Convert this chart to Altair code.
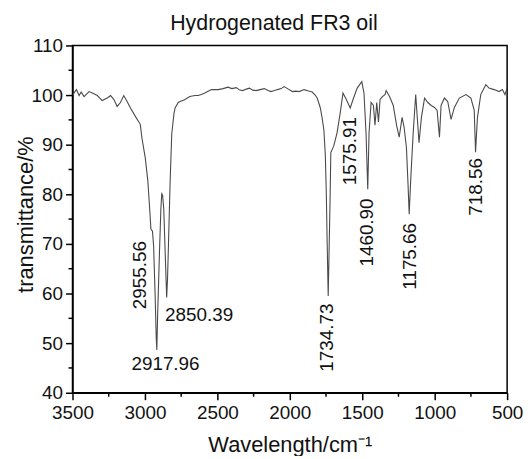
import altair as alt
import pandas as pd

# Spectrum trace (wavenumber cm-1, transmittance %)
wavenumber = [
    3500, 3473, 3454, 3440, 3420, 3386, 3363, 3329, 3295, 3260, 3237, 3214, 3192, 3169, 3146,
    3123, 3100, 3066, 3032, 3021, 2998, 2980, 2968, 2959, 2955, 2948, 2940, 2930, 2922, 2918,
    2912, 2900, 2890, 2884, 2878, 2870, 2860, 2850, 2844, 2838, 2826, 2815, 2800, 2792, 2770,
    2758, 2730, 2690, 2655, 2633, 2610, 2587, 2541, 2496, 2460, 2427, 2400, 2370, 2345, 2325,
    2300, 2279, 2255, 2233, 2205, 2176, 2150, 2131, 2105, 2085, 2060, 2039, 2010, 1982, 1960,
    1936, 1902, 1870, 1845, 1825, 1811, 1790, 1777, 1765, 1755, 1748, 1742, 1735, 1728, 1722,
    1717, 1697, 1674, 1652, 1633, 1610, 1583, 1560, 1535, 1503, 1488, 1474, 1462, 1453, 1439,
    1423, 1412, 1400, 1388, 1377, 1361, 1343, 1335, 1310, 1286, 1263, 1245, 1225, 1211, 1195,
    1184, 1176, 1167, 1149, 1131, 1120, 1108, 1092, 1070, 1047, 1024, 1001, 983, 967, 956,
    933, 910, 887, 864, 830, 784, 750, 727, 718, 705, 682, 647, 625, 590, 556,
    533, 515, 500,
]
transmittance = [
    100.0, 101.1, 99.9, 100.6, 99.7, 100.7, 100.4, 99.9, 98.9, 99.4, 99.9, 99.1, 97.7, 98.5, 99.9,
    98.7, 97.4, 95.7, 94.1, 91.4, 87.4, 82.7, 77.4, 73.1, 72.8, 72.6, 69.5, 60.0, 51.0, 48.6,
    56.0, 68.0, 77.0, 80.1, 79.8, 77.0, 68.0, 59.2, 63.0, 69.4, 82.7, 92.1, 96.2, 97.4, 98.5,
    98.7, 99.0, 99.7, 99.9, 99.9, 100.1, 100.4, 101.1, 101.1, 101.3, 101.6, 101.3, 101.5, 101.0, 100.9,
    101.2, 101.4, 101.0, 100.9, 101.1, 101.3, 100.9, 100.7, 100.9, 101.1, 101.3, 101.7, 101.2, 100.7, 100.8,
    100.7, 101.1, 100.8, 100.6, 100.0, 99.4, 97.5, 95.4, 93.0, 88.0, 80.0, 70.0, 59.5, 70.0, 79.0,
    88.4, 89.7, 92.4, 96.4, 100.4, 99.1, 97.4, 99.4, 101.4, 102.7, 100.4, 92.4, 81.0, 92.4, 98.5,
    97.9, 93.9, 98.5, 94.6, 99.1, 99.7, 100.1, 100.9, 99.6, 97.9, 93.9, 91.5, 95.5, 93.5, 89.4,
    82.0, 76.0, 82.0, 92.1, 100.1, 95.4, 90.4, 95.4, 99.4, 98.5, 97.9, 97.5, 96.9, 91.5, 97.9,
    99.4, 98.7, 95.1, 97.5, 99.4, 100.1, 99.4, 96.9, 88.5, 95.4, 100.1, 102.1, 101.4, 101.1, 100.7,
    101.1, 100.1, 101.4,
]

# Peak annotations
vert_labels = ["2955.56", "1734.73", "1575.91", "1460.90", "1175.66", "718.56"]
vert_x = [3037, 1743, 1583, 1469, 1172, 716]
vert_y = [63.7, 51.1, 88.7, 72.3, 67.5, 81.5]

horiz_labels = ["2850.39", "2917.96"]
horiz_x = [2626, 2858]
horiz_y = [55.7, 45.7]

x_major = list(range(500, 3501, 500))
x_minor = list(range(750, 3500, 500))
y_major = list(range(40, 111, 10))
y_minor = list(range(45, 110, 10))

FONT = "Liberation Sans"
INK = "#111111"

spec = pd.DataFrame({"w": wavenumber, "t": transmittance})
vdf = pd.DataFrame({"w": vert_x, "t": vert_y, "label": vert_labels})
hdf = pd.DataFrame({"w": horiz_x, "t": horiz_y, "label": horiz_labels})
xmin_df = pd.DataFrame({"w": x_minor})
ymin_df = pd.DataFrame({"t": y_minor})

xscale = alt.Scale(domain=[500, 3500], reverse=True, nice=False, zero=False)
yscale = alt.Scale(domain=[40, 110], nice=False, zero=False)

common = dict(
    labelFont=FONT, titleFont=FONT, labelFontSize=19, titleFontSize=22,
    titleFontWeight="normal", domainColor="black", domainWidth=1.5,
    tickColor="black", tickWidth=1.5, tickSize=7, labelColor=INK, titleColor=INK,
    grid=False, labelFlush=False,
)

xaxis = alt.Axis(
    title="Wavelength/cm⁻¹", values=x_major, format="d",
    labelPadding=4, titlePadding=12, **common,
)
yaxis = alt.Axis(
    title="transmittance/%", values=y_major,
    labelPadding=3, titleX=-40, titleY=170, titleBaseline="alphabetic",
    titleAngle=270, titleAlign="center", **common,
)

line = alt.Chart(spec).mark_line(color="#4a4a4a", strokeWidth=1.1, clip=True).encode(
    x=alt.X("w:Q", scale=xscale, axis=xaxis),
    y=alt.Y("t:Q", scale=yscale, axis=yaxis),
)

# minor ticks (outward, shorter than the major ones)
xminor = alt.Chart(xmin_df).mark_rule(color="black", strokeWidth=1.5, clip=False).encode(
    x=alt.X("w:Q", scale=xscale), y=alt.value(350), y2=alt.value(354)
)
yminor = alt.Chart(ymin_df).mark_rule(color="black", strokeWidth=1.5, clip=False).encode(
    y=alt.Y("t:Q", scale=yscale), x=alt.value(0), x2=alt.value(-4)
)

vtext = alt.Chart(vdf).mark_text(
    angle=270, align="center", baseline="middle", fontSize=19, font=FONT, color=INK
).encode(x=alt.X("w:Q", scale=xscale), y=alt.Y("t:Q", scale=yscale), text="label:N")

htext = alt.Chart(hdf).mark_text(
    align="center", baseline="middle", fontSize=19, font=FONT, color=INK
).encode(x=alt.X("w:Q", scale=xscale), y=alt.Y("t:Q", scale=yscale), text="label:N")

chart = (
    alt.layer(line, xminor, yminor, vtext, htext)
    .properties(
        width=438,
        height=350,
        padding={"left": 65, "top": 36, "right": 16, "bottom": 62},
        autosize=alt.AutoSizeParams(type="none"),
        background="white",
        title=alt.TitleParams(
            "Hydrogenated FR3 oil", fontSize=21.5, font=FONT, fontWeight="normal",
            anchor="middle", dx=-16, offset=2, color=INK,
        ),
    )
    .configure_view(stroke="black", strokeWidth=1.5)
)

chart.save("out.html", embed_options={"renderer": "svg", "actions": False})
